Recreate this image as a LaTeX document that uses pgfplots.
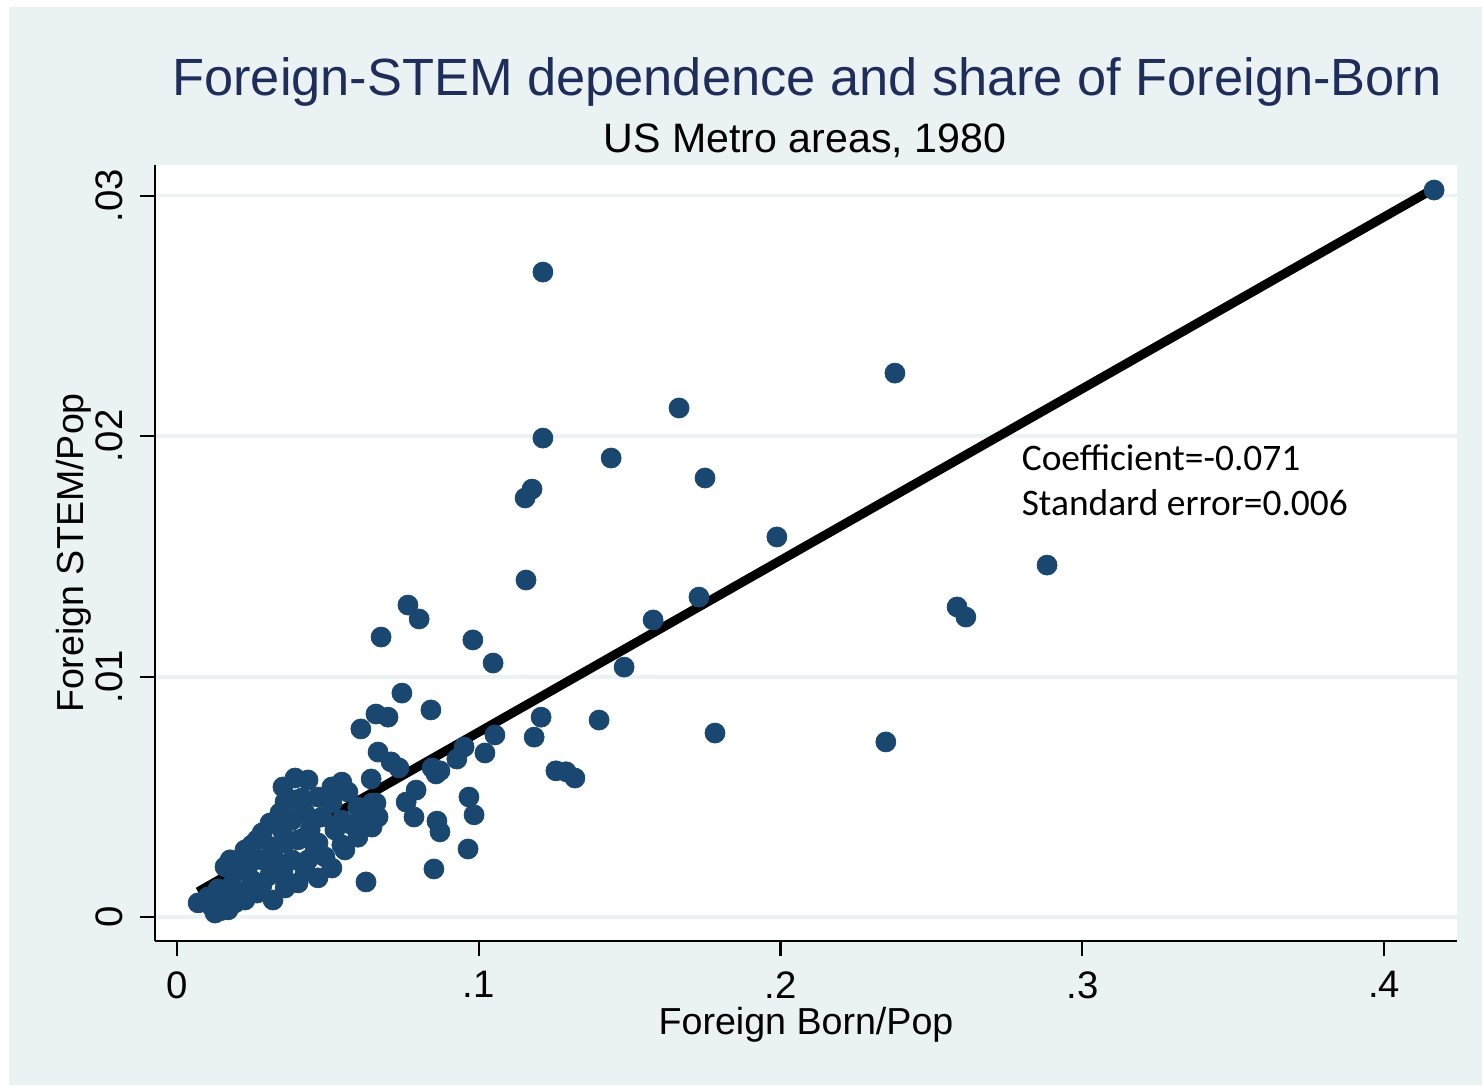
\documentclass[border=0pt]{standalone}
\usepackage{fontspec}
\setmainfont{Liberation Sans}
\newfontfamily\calibri{Carlito}
\usepackage{pgfplots}
\usepackage{pgfplotstable}
\pgfplotsset{compat=1.18}
\definecolor{stbg}{RGB}{234,242,243}
\definecolor{stnavy}{RGB}{26,71,111}
\definecolor{sttitle}{RGB}{30,45,90}

% metro areas: foreign born share, foreign STEM share
\pgfplotstableread{
x y
0.4165 0.03023
0.1213 0.02682
0.2379 0.02262
0.1664 0.02117
0.1213 0.01992
0.1439 0.01909
0.1750 0.01826
0.1177 0.01780
0.1154 0.01743
0.1988 0.01581
0.2883 0.01464
0.1157 0.01402
0.1730 0.01331
0.2585 0.01290
0.2614 0.01248
0.0766 0.01298
0.0803 0.01240
0.1578 0.01236
0.0677 0.01165
0.0981 0.01153
0.1048 0.01057
0.1482 0.01040
0.0746 0.00932
0.0842 0.00862
0.0660 0.00845
0.0700 0.00832
0.1207 0.00832
0.1399 0.00820
0.0610 0.00783
0.1783 0.00766
0.1054 0.00758
0.1184 0.00749
0.2349 0.00729
0.0952 0.00708
0.0667 0.00687
0.1021 0.00683
0.0928 0.00658
0.0710 0.00646
0.0736 0.00621
0.0846 0.00621
0.0872 0.00609
0.0859 0.00596
0.1256 0.00609
0.1290 0.00605
0.1319 0.00579
0.0968 0.00500
0.0760 0.00479
0.0660 0.00475
0.0793 0.00529
0.0985 0.00426
0.0786 0.00417
0.0862 0.00400
0.0872 0.00355
0.0965 0.00284
0.0852 0.00201
0.0627 0.00147
0.0644 0.00575
0.0392 0.00579
0.0435 0.00571
0.0352 0.00542
0.0514 0.00542
0.0547 0.00562
0.0567 0.00521
0.0359 0.00480
0.0342 0.00434
0.0415 0.00496
0.0468 0.00500
0.0514 0.00475
0.0600 0.00458
0.0647 0.00475
0.0667 0.00417
0.0647 0.00375
0.0600 0.00333
0.0557 0.00280
0.0547 0.00404
0.0481 0.00417
0.0425 0.00434
0.0382 0.00404
0.0349 0.00363
0.0309 0.00392
0.0283 0.00351
0.0266 0.00322
0.0249 0.00301
0.0226 0.00280
0.0316 0.00293
0.0359 0.00309
0.0402 0.00322
0.0458 0.00293
0.0468 0.00309
0.0491 0.00251
0.0514 0.00205
0.0468 0.00164
0.0425 0.00197
0.0402 0.00143
0.0359 0.00122
0.0319 0.00072
0.0382 0.00239
0.0326 0.00239
0.0283 0.00239
0.0243 0.00226
0.0177 0.00239
0.0160 0.00210
0.0216 0.00197
0.0249 0.00155
0.0283 0.00135
0.0266 0.00101
0.0226 0.00072
0.0193 0.00060
0.0150 0.00072
0.0117 0.00043
0.0071 0.00060
0.0127 0.00018
0.0170 0.00031
0.0210 0.00101
0.0183 0.00135
0.0309 0.00176
0.0352 0.00189
0.0442 0.00363
0.0524 0.00363
0.0581 0.00384
0.0547 0.00301
0.0614 0.00425
0.0435 0.00239
0.0392 0.00488
0.0137 0.00118
0.0104 0.00085
0.0144 0.00027
}\metro

\begin{document}
\begin{tikzpicture}
\fill[white] (0,0) rectangle (14.82,-10.85);
\fill[stbg] (0.09,-0.07) rectangle (14.82,-10.85);
\useasboundingbox (0,0) rectangle (14.82,-10.85);

\node[anchor=base, text=sttitle, font=\fontsize{14.9}{18}\selectfont] at (8.07,-0.95)
  {Foreign-STEM dependence and share of Foreign-Born};
\node[anchor=base, font=\fontsize{11.7}{14}\selectfont] at (8.05,-1.52)
  {US Metro areas, 1980};

\begin{axis}[
    at={(1.55cm,-9.41cm)}, anchor=south west,
    scale only axis,
    width=13.02cm, height=7.76cm,
    xmin=-0.00719, xmax=0.4241,
    ymin=-0.000985, ymax=0.03127,
    axis x line*=bottom, axis y line*=left,
    x axis line style={-}, y axis line style={-},
    axis line style={black, line width=0.6pt},
    axis background/.style={fill=white},
    tick align=outside, major tick length=0.15cm,
    tick style={black, line width=0.6pt},
    scaled ticks=false,
    xtick={0,0.1,0.2,0.3,0.4}, xticklabels={0,.1,.2,.3,.4},
    ytick={0,0.01,0.02,0.03}, yticklabels={0,.01,.02,.03},
    ymajorgrids,
    grid style={stbg, line width=1.05pt},
    /pgf/number format/assume math mode=true,
    ticklabel style={font=\fontsize{10.9}{13}\selectfont},
    xticklabel style={yshift=-0.03cm},
    yticklabel style={xshift=-0.05cm, rotate=90, anchor=south},
    xlabel={Foreign Born/Pop}, ylabel={Foreign STEM/Pop},
    label style={font=\fontsize{10.7}{13}\selectfont},
    xlabel style={at={(axis description cs:0.5,-0.108)}, anchor=center},
    ylabel style={at={(axis description cs:-0.0625,0.5)}, anchor=center},
]
\addplot[only marks, mark=*, mark size=2.85pt,
         mark options={draw=stnavy, fill=stnavy, line width=0.2pt}]
  table[x=x, y=y] {\metro};
\addplot[black, line width=2.6pt] coordinates {(0.00706,0.00106) (0.4166,0.0303)};
\node[anchor=base west, inner sep=0pt, font=\calibri\fontsize{10.65}{12.8}\selectfont]
  at (axis cs:0.2797,0.01859) {Coefficient=-0.071};
\node[anchor=base west, inner sep=0pt, font=\calibri\fontsize{10.65}{12.8}\selectfont]
  at (axis cs:0.2797,0.01672) {Standard error=0.006};
\end{axis}
\end{tikzpicture}
\end{document}
